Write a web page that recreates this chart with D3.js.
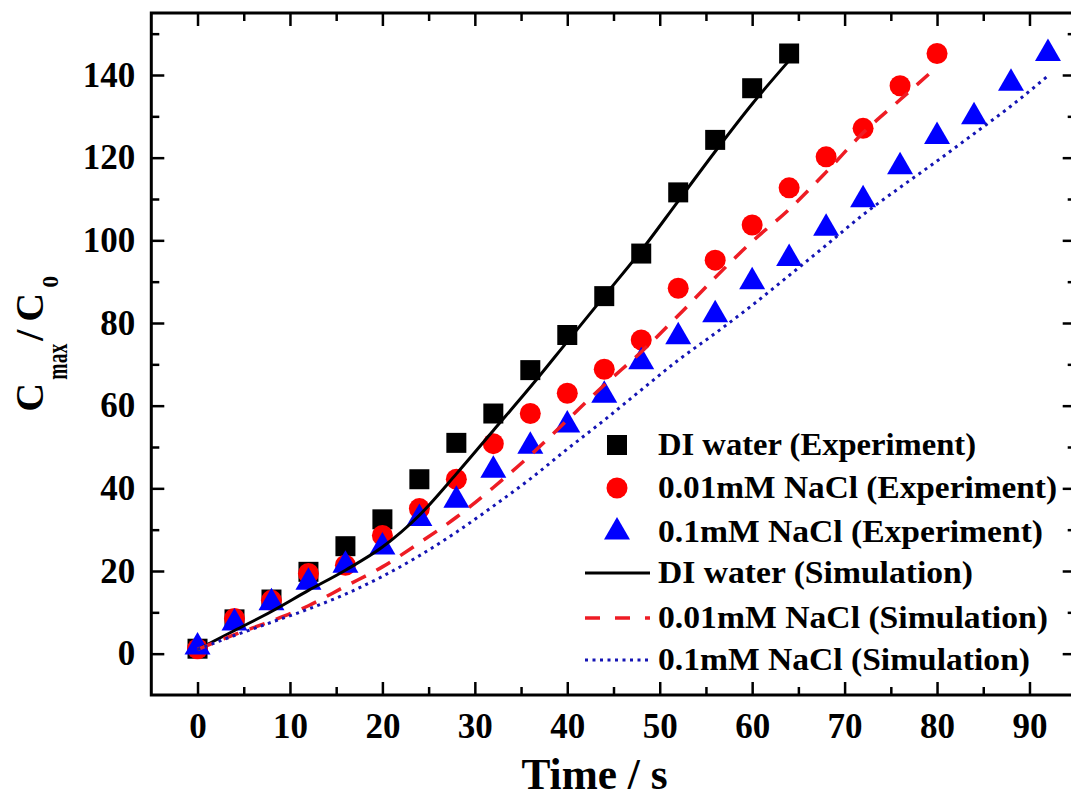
<!DOCTYPE html>
<html>
<head>
<meta charset="utf-8">
<script src="https://cdn.jsdelivr.net/npm/d3@7"></script>
<style>
  html, body { margin: 0; padding: 0; background: #fff; }
  svg { display: block; }
  text { font-family: "Liberation Serif", "Times New Roman", serif; font-weight: bold; fill: #000; }
</style>
</head>
<body>
<svg id="chart" width="1071" height="800"></svg>
<script>
// ---------- data ----------
const timeDI   = [0,4,8,12,16,20,24,28,32,36,40,44,48,52,56,60,64];
const time001  = [0,4,8,12,16,20,24,28,32,36,40,44,48,52,56,60,64,68,72,76,80];
const time01   = [0,4,8,12,16,20,24,28,32,36,40,44,48,52,56,60,64,68,72,76,80,84,88,92];

const expDI  = [1.2, 8.3, 13.1, 19.8, 26, 32.5, 42.2, 51, 58.1, 68.6, 77.1, 86.5, 96.8, 111.6, 124.3, 136.8, 145.2];
const exp001 = [1.2, 8.5, 12.9, 19.4, 21.4, 28.6, 35.1, 42.2, 50.8, 58.1, 63, 68.8, 75.9, 88.4, 95.2, 103.7, 112.7, 120.2, 127.1, 137.4, 145.2];
const exp01  = [1.6, 7.4, 12.3, 17.3, 21.4, 25.8, 32.7, 37.1, 44.4, 50.2, 55.3, 62.5, 70.6, 76.7, 82, 90, 95.6, 102.9, 109.8, 117.8, 125.1, 129.9, 138, 145.2];

const simDI  = [1, 5.6, 10.2, 15.3, 20.2, 25.8, 33.5, 43.5, 54, 64.5, 75.5, 86.5, 97.5, 109.5, 121.5, 133, 143.5];
const sim001 = [1, 4.6, 7.9, 11.6, 16.3, 21, 26.8, 33, 40.2, 48, 56.5, 65, 73, 81.8, 91, 99.7, 107.5, 116.5, 126, 134, 142];
const sim01  = [1, 4.4, 7.6, 10.8, 14.4, 18.7, 23.7, 29.4, 35.7, 42.3, 49.5, 56.5, 63.8, 71, 77.5, 84.3, 91.5, 98.8, 106.2, 112.8, 119.2, 125.8, 132.5, 139.8];

const xTicks = [0,10,20,30,40,50,60,70,80,90];
const xMinor = [5,15,25,35,45,55,65,75,85];
const yTicks = [0,20,40,60,80,100,120,140];
const yMinor = [10,30,50,70,90,110,130,150];

const legendLabels = [
  "DI water (Experiment)",
  "0.01mM NaCl (Experiment)",
  "0.1mM NaCl (Experiment)",
  "DI water (Simulation)",
  "0.01mM NaCl (Simulation)",
  "0.1mM NaCl (Simulation)"
];

// ---------- layout ----------
const svg = d3.select("#chart");
const L = 151.3, R = 1075.7, T = 13, B = 695;
const x = d3.scaleLinear().domain([-5, 95]).range([L, R]);
const y = d3.scaleLinear().domain([-10, 155]).range([B, T]);

const tickFont = 35;

function styleAxis(g) {
  g.select(".domain").remove();
  g.selectAll(".tick line").attr("stroke", "#000").attr("stroke-width", 2.5);
  g.selectAll(".tick text").style("font-size", tickFont + "px").attr("fill", "#000");
}

// bottom
svg.append("g").attr("transform", `translate(0,${B})`)
  .call(d3.axisBottom(x).tickValues(xTicks).tickSizeInner(-13).tickSizeOuter(0).tickPadding(18).tickFormat(d3.format("d")))
  .call(styleAxis);
svg.append("g").attr("transform", `translate(0,${B})`)
  .call(d3.axisBottom(x).tickValues(xMinor).tickSizeInner(-8).tickSizeOuter(0).tickFormat(""))
  .call(styleAxis);
// top
svg.append("g").attr("transform", `translate(0,${T})`)
  .call(d3.axisTop(x).tickValues(xTicks).tickSizeInner(-13).tickSizeOuter(0).tickFormat(""))
  .call(styleAxis);
svg.append("g").attr("transform", `translate(0,${T})`)
  .call(d3.axisTop(x).tickValues(xMinor).tickSizeInner(-8).tickSizeOuter(0).tickFormat(""))
  .call(styleAxis);
// left
svg.append("g").attr("transform", `translate(${L},0)`)
  .call(d3.axisLeft(y).tickValues(yTicks).tickSizeInner(-13).tickSizeOuter(0).tickPadding(16).tickFormat(d3.format("d")))
  .call(styleAxis);
svg.append("g").attr("transform", `translate(${L},0)`)
  .call(d3.axisLeft(y).tickValues(yMinor).tickSizeInner(-8).tickSizeOuter(0).tickFormat(""))
  .call(styleAxis);
// right
svg.append("g").attr("transform", `translate(${R},0)`)
  .call(d3.axisRight(y).tickValues(yTicks).tickSizeInner(-13).tickSizeOuter(0).tickFormat(""))
  .call(styleAxis);
svg.append("g").attr("transform", `translate(${R},0)`)
  .call(d3.axisRight(y).tickValues(yMinor).tickSizeInner(-8).tickSizeOuter(0).tickFormat(""))
  .call(styleAxis);

// frame
svg.append("rect").attr("x", L).attr("y", T).attr("width", R - L).attr("height", B - T)
  .attr("fill", "none").attr("stroke", "#000").attr("stroke-width", 3);

// ---------- markers ----------
const sq = d3.symbol().type(d3.symbolSquare).size(400);
const ci = d3.symbol().type(d3.symbolCircle).size(Math.PI * 10.5 * 10.5);
const tr = d3.symbol().type(d3.symbolTriangle).size(Math.sqrt(3) / 4 * 26 * 26);

const marks = svg.append("g");
marks.selectAll(".sq").data(timeDI.map((t, i) => [t, expDI[i]])).join("path")
  .attr("d", sq).attr("transform", d => `translate(${x(d[0])},${y(d[1])})`).attr("fill", "#000");
marks.selectAll(".ci").data(time001.map((t, i) => [t, exp001[i]])).join("path")
  .attr("d", ci).attr("transform", d => `translate(${x(d[0])},${y(d[1])})`).attr("fill", "#ff0000");
marks.selectAll(".tr").data(time01.map((t, i) => [t, exp01[i]])).join("path")
  .attr("d", tr).attr("transform", d => `translate(${x(d[0])},${y(d[1])})`).attr("fill", "#0000ff");

// ---------- simulation lines ----------
const line = d3.line().x(d => x(d[0])).y(d => y(d[1])).curve(d3.curveMonotoneX);
const styles = [
  { color: "#000000", dash: null,    w: 3 },
  { color: "#ee1c24", dash: "16,12", w: 3.5 },
  { color: "#1414b4", dash: "3,4.5", w: 3 }
];
const sims = [
  timeDI.map((t, i) => [t, simDI[i]]),
  time001.map((t, i) => [t, sim001[i]]),
  time01.map((t, i) => [t, sim01[i]])
];
sims.forEach((s, k) => {
  svg.append("path").attr("d", line(s)).attr("fill", "none")
    .attr("stroke", styles[k].color).attr("stroke-width", styles[k].w)
    .attr("stroke-dasharray", styles[k].dash);
});

// ---------- legend ----------
const legY = [445, 488, 532, 573, 618, 660];
const legLen = [318, 399, 385, 315, 390, 372];
const leg = svg.append("g");
leg.append("path").attr("d", sq).attr("transform", `translate(617,${legY[0]})`).attr("fill", "#000");
leg.append("path").attr("d", ci).attr("transform", `translate(617,${legY[1]})`).attr("fill", "#ff0000");
leg.append("path").attr("d", tr).attr("transform", `translate(617,${legY[2]})`).attr("fill", "#0000ff");
[0, 1, 2].forEach(k => {
  leg.append("line").attr("x1", 585).attr("x2", 650).attr("y1", legY[3 + k]).attr("y2", legY[3 + k])
    .attr("stroke", styles[k].color).attr("stroke-width", styles[k].w)
    .attr("stroke-dasharray", k === 1 ? "15,15" : styles[k].dash);
});
legendLabels.forEach((lab, i) => {
  leg.append("text").attr("x", 658).attr("y", legY[i] + 10)
    .style("font-size", "31px")
    .attr("textLength", legLen[i]).attr("lengthAdjust", "spacingAndGlyphs")
    .text(lab);
});

// ---------- axis titles ----------
svg.append("text").attr("x", 594.5).attr("y", 789).attr("text-anchor", "middle")
  .style("font-size", "44px").attr("textLength", 146).attr("lengthAdjust", "spacingAndGlyphs")
  .text("Time / s");

const yl = svg.append("g").attr("transform", "translate(43,411.7) rotate(-90)");
yl.append("text").attr("x", 0).attr("y", 0).style("font-size", "40px").text("C");
yl.append("text").attr("x", 32).attr("y", 24).style("font-size", "30px")
  .attr("textLength", 36).attr("lengthAdjust", "spacingAndGlyphs").text("max");
yl.append("text").attr("x", 71).attr("y", 0).style("font-size", "40px").text("/");
yl.append("text").attr("x", 90).attr("y", 0).style("font-size", "40px").text("C");
yl.append("text").attr("x", 124).attr("y", 15).style("font-size", "24px").text("0");
</script>
</body>
</html>
